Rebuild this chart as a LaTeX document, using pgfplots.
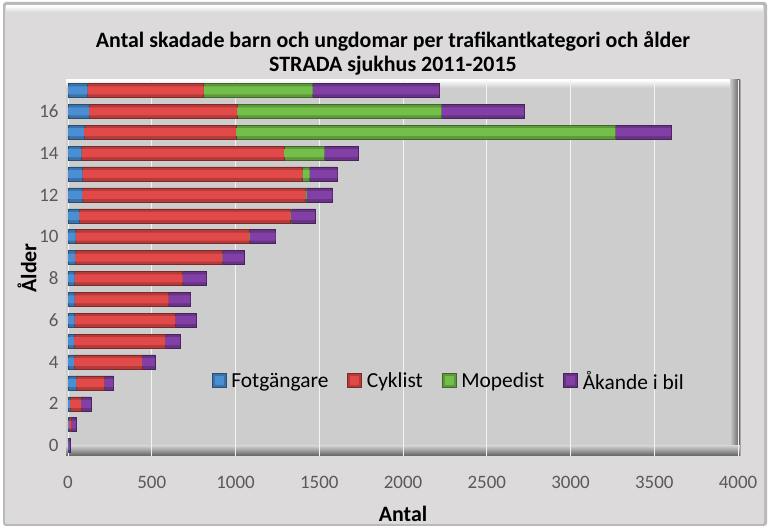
\documentclass[border=0pt]{standalone}
\usepackage{fontspec}
\setmainfont{Carlito}
\usepackage{pgfplots}
\pgfplotsset{compat=1.18}

\definecolor{bgout}{HTML}{DCDADA}
\definecolor{plotbg}{HTML}{CDCDCD}
\definecolor{ticktxt}{HTML}{595959}
\definecolor{cblue}{HTML}{4A8FD4}
\definecolor{cred}{HTML}{E24A4A}
\definecolor{cgreen}{HTML}{74BE4A}
\definecolor{cpurple}{HTML}{8240A6}

% values per age: Fotgangare, Cyklist, Mopedist, Akande i bil
\pgfplotstableread{
age  fot  cyk   mop   bil
0    2    2     0     9
1    5    15    0     28
2    12   66    0     58
3    48   169   0     54
4    35   407   0     76
5    35   545   0     90
6    40   600   0     125
7    40   560   0     131
8    40   644   1     140
9    42   877   2     129
10   46   1036  2     156
11   66   1261  3     145
12   85   1332  8     153
13   86   1313  44    165
14   80   1211  240   199
15   95   909   2264  333
16   125  884   1220  494
17   115  695   651   754
}\agedata

\pgfplotsset{
  base/.style={
    at={(68bp,72bp)}, anchor=south west,
    scale only axis, width=670bp, height=376bp,
    xbar stacked,
    xmin=0, xmax=4000, ymin=-0.5, ymax=17.5},
  bevbar/.style={fill=#1!80!black, draw=#1!55!black, line width=0.5bp,
    legend image code/.code={
      \draw[fill=#1!80!black, draw=#1!55!black, line width=0.5bp] (0bp,-6bp) rectangle (14bp,8bp);
      \fill[#1] (3bp,-3bp) rectangle (11bp,5bp);}},
  inbar/.style={fill=#1, draw=none},
}

\begin{document}
\begin{tikzpicture}
% chart area
\fill[white] (0bp,0bp) rectangle (770bp,528bp);
\fill[gray!55, rounded corners=3bp] (3bp,2bp) rectangle (767bp,526bp);
\fill[bgout, rounded corners=2bp] (5bp,4bp) rectangle (764bp,523bp);
\shade[top color=white, bottom color=bgout] (6bp,516bp) rectangle (763bp,522bp);
% plot area with bevel
\fill[plotbg] (66bp,72bp) rectangle (740bp,448bp);
\shade[top color=white, bottom color=plotbg] (66bp,440bp) rectangle (740bp,448bp);
\shade[left color=plotbg, right color=gray!70!black] (730bp,72bp) rectangle (740bp,448bp);
\shade[top color=plotbg, bottom color=gray!75!black] (66bp,72bp) rectangle (740bp,82bp);
\draw[gray!70, line width=0.8bp] (740.5bp,72bp) -- (740.5bp,448bp);

\node[font=\bfseries\fontsize{22}{24}\selectfont, align=center]
  at (393bp,475bp) {Antal skadade barn och ungdomar per trafikantkategori och ålder\\STRADA sjukhus 2011-2015};

\begin{axis}[base, bar width=14bp,
  xtick={0,500,...,4000}, ytick={0,2,...,16},
  axis line style={draw=none}, major tick length=0pt,
  xmajorgrids, grid style={white!90!gray, line width=0.8bp},
  tick label style={font=\fontsize{19}{21}\selectfont, text=ticktxt},
  /pgf/number format/assume math mode=true,
  scaled x ticks=false,
  xticklabel style={/pgf/number format/1000 sep={}, yshift=-17bp},
  yticklabel style={xshift=-6bp},
  xlabel={Antal}, ylabel={Ålder},
  every axis x label/.style={at={(rel axis cs:0.5,0)}, yshift=-58bp, anchor=center,
    font=\bfseries\fontsize{22}{24}\selectfont},
  every axis y label/.style={at={(rel axis cs:0,0.5)}, xshift=-41bp, rotate=90, anchor=center,
    font=\bfseries\fontsize{22}{24}\selectfont},
  legend style={at={(rel axis cs:0.21,0.2)}, anchor=west, draw=none, fill=none,
    font=\fontsize{21.5}{24}\selectfont, legend columns=-1,
    /tikz/every odd column/.append style={column sep=3bp},
    /tikz/every even column/.append style={column sep=17bp},
    legend cell align=left},
]
\addplot[bevbar=cblue] table[x=fot, y=age] {\agedata};
\addlegendentry{Fotgängare}
\addplot[bevbar=cred] table[x=cyk, y=age] {\agedata};
\addlegendentry{Cyklist}
\addplot[bevbar=cgreen] table[x=mop, y=age] {\agedata};
\addlegendentry{Mopedist}
\addplot[bevbar=cpurple] table[x=bil, y=age] {\agedata};
\addlegendentry{Åkande i bil}
\end{axis}
% inner face of the bevelled bars
\begin{axis}[base, bar width=8bp, hide axis]
\addplot[inbar=cblue] table[x=fot, y=age] {\agedata};
\addplot[inbar=cred] table[x=cyk, y=age] {\agedata};
\addplot[inbar=cgreen] table[x=mop, y=age] {\agedata};
\addplot[inbar=cpurple] table[x=bil, y=age] {\agedata};
\end{axis}
\end{tikzpicture}
\end{document}
